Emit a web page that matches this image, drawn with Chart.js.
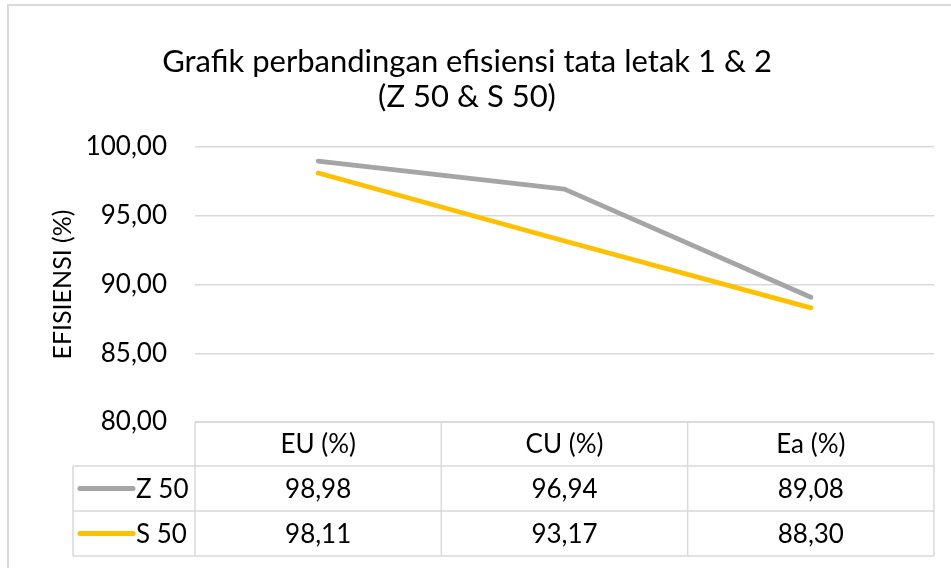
<!DOCTYPE html>
<html>
<head>
<meta charset="utf-8">
<script src="https://cdn.jsdelivr.net/npm/chart.js@4"></script>
<style>
  body { margin: 0; background: #fff; }
  canvas { display: block; }
</style>
</head>
<body>
<canvas id="chart" width="951" height="568"></canvas>
<script>
const categories = ["EU (%)", "CU (%)", "Ea (%)"];
const seriesNames = ["Z 50", "S 50"];
const z50 = [98.98, 96.94, 89.08];
const s50 = [98.11, 93.17, 88.30];
const seriesColors = ["#A5A5A5", "#FFC000"];

const fontFamily = "Lato, 'Open Sans', sans-serif";
const gridColor = "#D9D9D9";

function fmt(v) {
  return Number(v).toFixed(2).replace(".", ",");
}

// draws the outer frame and the excel style data table under the plot
const dataTable = {
  id: "dataTable",
  beforeDraw(chart) {
    const ctx = chart.ctx;
    ctx.save();
    ctx.strokeStyle = gridColor;
    ctx.lineWidth = 2;
    ctx.beginPath();
    ctx.moveTo(8, chart.height);
    ctx.lineTo(8, 5);
    ctx.lineTo(chart.width, 5);
    ctx.stroke();
    ctx.restore();
  },
  afterDraw(chart) {
    const ctx = chart.ctx;
    const x = chart.scales.x;
    const area = chart.chartArea;
    const colW = x.width / categories.length;
    const headH = 44;
    const rowH = 45;
    const legendLeft = 73;
    const top = area.bottom;
    const bottom = top + headH + rowH * seriesNames.length;

    ctx.save();
    ctx.strokeStyle = gridColor;
    ctx.lineWidth = 1.5;
    ctx.beginPath();
    // header top line
    ctx.moveTo(area.left, top);
    ctx.lineTo(area.right, top);
    // row lines
    for (let r = 0; r <= seriesNames.length; r++) {
      const y = top + headH + rowH * r;
      ctx.moveTo(legendLeft, y);
      ctx.lineTo(area.right, y);
    }
    // vertical lines
    ctx.moveTo(legendLeft, top + headH);
    ctx.lineTo(legendLeft, bottom);
    for (let c = 0; c <= categories.length; c++) {
      const xx = area.left + colW * c;
      ctx.moveTo(xx, top);
      ctx.lineTo(xx, bottom);
    }
    ctx.stroke();

    ctx.fillStyle = "#000";
    ctx.font = "26px " + fontFamily;
    ctx.textAlign = "center";
    ctx.textBaseline = "middle";
    categories.forEach((c, i) => {
      ctx.fillText(c, x.getPixelForValue(i), top + headH / 2 + 1);
    });

    chart.data.datasets.forEach((ds, r) => {
      const yc = top + headH + rowH * r + rowH / 2 + 1;
      ds.data.forEach((v, i) => {
        ctx.textAlign = "center";
        ctx.fillText(fmt(v), x.getPixelForValue(i), yc);
      });
      // legend key
      ctx.strokeStyle = ds.borderColor;
      ctx.lineWidth = 5;
      ctx.lineCap = "round";
      ctx.beginPath();
      ctx.moveTo(80, yc - 1);
      ctx.lineTo(133, yc - 1);
      ctx.stroke();
      ctx.textAlign = "left";
      ctx.fillText(ds.label, 136, yc);
    });
    ctx.restore();
  }
};

new Chart(document.getElementById("chart"), {
  type: "line",
  data: {
    labels: categories,
    datasets: [
      { label: seriesNames[0], data: z50, borderColor: seriesColors[0] },
      { label: seriesNames[1], data: s50, borderColor: seriesColors[1] }
    ]
  },
  options: {
    responsive: false,
    animation: false,
    layout: { padding: { left: 0, right: 17, top: 0, bottom: 0 } },
    elements: {
      line: { borderWidth: 4.8, borderCapStyle: "round", borderJoinStyle: "round", tension: 0 },
      point: { radius: 0, hoverRadius: 0 }
    },
    plugins: {
      legend: { display: false },
      tooltip: { enabled: false },
      title: {
        display: true,
        text: ["Grafik perbandingan efisiensi tata letak 1 & 2", "(Z 50 & S 50)"],
        color: "#000",
        font: { family: fontFamily, size: 31, weight: "normal", lineHeight: 1.13 },
        padding: { top: 44, bottom: 33 }
      }
    },
    scales: {
      x: {
        offset: true,
        grid: { display: false },
        border: { display: false },
        ticks: { display: false },
        afterFit(scale) { scale.height = 146; }
      },
      y: {
        min: 80,
        max: 100,
        ticks: {
          stepSize: 5,
          padding: 28,
          color: "#000",
          font: { family: fontFamily, size: 26 },
          callback: v => fmt(v)
        },
        grid: { color: gridColor, lineWidth: 1.5, drawTicks: false },
        border: { display: false },
        title: {
          display: true,
          text: "EFISIENSI (%)",
          color: "#000",
          font: { family: fontFamily, size: 25, lineHeight: 1.2 },
          padding: { top: 48, bottom: 0 }
        },
        afterFit(scale) { scale.width = 195; }
      }
    }
  },
  plugins: [dataTable]
});
</script>
</body>
</html>
